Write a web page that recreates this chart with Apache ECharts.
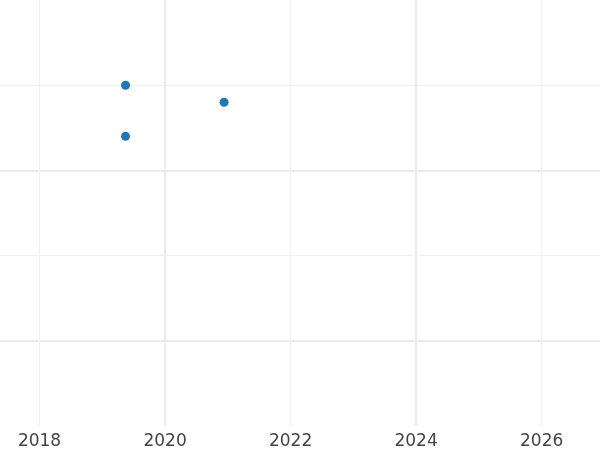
<!DOCTYPE html>
<html>
<head>
<meta charset="utf-8">
<script src="https://cdn.jsdelivr.net/npm/echarts@6/dist/echarts.min.js"></script>
<style>html,body{margin:0;padding:0;background:#fff}#c{width:600px;height:450px}</style>
</head>
<body>
<div id="c"></div>
<script>
// Data
var years = [2019.37, 2019.37, 2020.94];
var values = [4.0, 3.40, 3.80];
var xTicks = [2018, 2020, 2022, 2024, 2026];
var majorX = [2020, 2024];
var minorX = [2018, 2022, 2026];
var majorY = [1, 3];
var xMin = 2017.37, xMax = 2026.93;

var points = years.map(function (y, i) { return [y, values[i]]; });
var majorData = majorX.map(function (v) { return { xAxis: v }; })
  .concat(majorY.map(function (v) { return { yAxis: v }; }));
var minorData = minorX.map(function (v) { return { xAxis: v }; });

var chart = echarts.init(document.getElementById('c'), null, { renderer: 'canvas' });
chart.setOption({
  animation: false,
  backgroundColor: '#ffffff',
  grid: { left: 0, right: 0, top: 0, bottom: 22.5, containLabel: false },
  xAxis: {
    type: 'value', min: xMin, max: xMax,
    axisLine: { show: false },
    axisTick: { show: false, customValues: xTicks },
    axisLabel: {
      customValues: xTicks,
      color: '#444444', fontSize: 17, fontFamily: 'DejaVu Sans', margin: 7,
      formatter: function (v) { return String(Math.round(v)); }
    },
    splitLine: { show: false }
  },
  yAxis: {
    type: 'value', min: 0, max: 5, interval: 1,
    axisLine: { show: false }, axisTick: { show: false }, axisLabel: { show: false },
    splitLine: { show: true, showMinLine: false, showMaxLine: false, lineStyle: { color: '#f0f0f0', width: 1 } }
  },
  series: [{
    type: 'scatter',
    data: points,
    symbolSize: 9,
    itemStyle: { color: '#1f77b4', opacity: 1 },
    z: 3,
    markLine: {
      silent: true, symbol: 'none', z: 1,
      label: { show: false },
      lineStyle: { color: '#ebebeb', width: 2, type: 'solid' },
      emphasis: { disabled: true },
      data: majorData
    }
  }, {
    type: 'scatter',
    data: [],
    z: 1,
    markLine: {
      silent: true, symbol: 'none', z: 1,
      label: { show: false },
      lineStyle: { color: '#f0f0f0', width: 1, type: 'solid' },
      emphasis: { disabled: true },
      data: minorData
    }
  }]
});
</script>
</body>
</html>
